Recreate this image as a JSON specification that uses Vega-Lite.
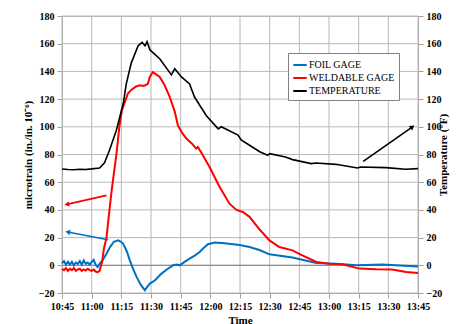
{
  "$schema": "https://vega.github.io/schema/vega-lite/v6.json",
  "width": 356,
  "height": 277,
  "autosize": {"type": "none"},
  "padding": {"left": 62, "top": 16, "right": 50, "bottom": 31},
  "background": "white",
  "config": {
    "view": {"stroke": "#b8b8b8"},
    "axis": {
      "labelOverlap": false,
      "labelFont": "Liberation Serif",
      "labelFontWeight": "bold",
      "labelFontSize": 10,
      "labelColor": "#000",
      "titleFont": "Liberation Serif",
      "titleFontWeight": "bold",
      "titleFontSize": 11,
      "titleColor": "#000",
      "gridColor": "#b8b8b8",
      "domainColor": "#a0a0a0",
      "tickColor": "#a0a0a0",
      "tickSize": 5
    }
  },
  "datasets": {
    "lines": [
      {"t": "2020-01-01T10:45:00Z", "s": "FOIL GAGE", "v": 1.5},
      {"t": "2020-01-01T10:46:00Z", "s": "FOIL GAGE", "v": 3},
      {"t": "2020-01-01T10:47:00Z", "s": "FOIL GAGE", "v": 0.5},
      {"t": "2020-01-01T10:48:00Z", "s": "FOIL GAGE", "v": 2.5},
      {"t": "2020-01-01T10:49:00Z", "s": "FOIL GAGE", "v": 0.5},
      {"t": "2020-01-01T10:50:00Z", "s": "FOIL GAGE", "v": 2.5},
      {"t": "2020-01-01T10:51:00Z", "s": "FOIL GAGE", "v": 0},
      {"t": "2020-01-01T10:52:00Z", "s": "FOIL GAGE", "v": 2},
      {"t": "2020-01-01T10:53:00Z", "s": "FOIL GAGE", "v": 1},
      {"t": "2020-01-01T10:54:00Z", "s": "FOIL GAGE", "v": 3},
      {"t": "2020-01-01T10:55:00Z", "s": "FOIL GAGE", "v": 0.5},
      {"t": "2020-01-01T10:56:00Z", "s": "FOIL GAGE", "v": 3.5},
      {"t": "2020-01-01T10:57:00Z", "s": "FOIL GAGE", "v": 1},
      {"t": "2020-01-01T10:58:00Z", "s": "FOIL GAGE", "v": 2},
      {"t": "2020-01-01T10:59:00Z", "s": "FOIL GAGE", "v": 0.5},
      {"t": "2020-01-01T11:00:00Z", "s": "FOIL GAGE", "v": 2.5},
      {"t": "2020-01-01T11:01:00Z", "s": "FOIL GAGE", "v": 4},
      {"t": "2020-01-01T11:02:00Z", "s": "FOIL GAGE", "v": 0.5},
      {"t": "2020-01-01T11:03:00Z", "s": "FOIL GAGE", "v": -1.2},
      {"t": "2020-01-01T11:04:00Z", "s": "FOIL GAGE", "v": 1},
      {"t": "2020-01-01T11:05:42Z", "s": "FOIL GAGE", "v": 4},
      {"t": "2020-01-01T11:07:30Z", "s": "FOIL GAGE", "v": 8.4},
      {"t": "2020-01-01T11:09:12Z", "s": "FOIL GAGE", "v": 13},
      {"t": "2020-01-01T11:11:12Z", "s": "FOIL GAGE", "v": 17},
      {"t": "2020-01-01T11:13:24Z", "s": "FOIL GAGE", "v": 18},
      {"t": "2020-01-01T11:14:48Z", "s": "FOIL GAGE", "v": 17},
      {"t": "2020-01-01T11:15:54Z", "s": "FOIL GAGE", "v": 15.7},
      {"t": "2020-01-01T11:17:48Z", "s": "FOIL GAGE", "v": 10},
      {"t": "2020-01-01T11:19:18Z", "s": "FOIL GAGE", "v": 3.6},
      {"t": "2020-01-01T11:20:48Z", "s": "FOIL GAGE", "v": -2},
      {"t": "2020-01-01T11:22:42Z", "s": "FOIL GAGE", "v": -8.4},
      {"t": "2020-01-01T11:24:48Z", "s": "FOIL GAGE", "v": -14},
      {"t": "2020-01-01T11:26:54Z", "s": "FOIL GAGE", "v": -18},
      {"t": "2020-01-01T11:27:54Z", "s": "FOIL GAGE", "v": -16},
      {"t": "2020-01-01T11:29:24Z", "s": "FOIL GAGE", "v": -13.2},
      {"t": "2020-01-01T11:31:54Z", "s": "FOIL GAGE", "v": -11},
      {"t": "2020-01-01T11:35:18Z", "s": "FOIL GAGE", "v": -6},
      {"t": "2020-01-01T11:38:00Z", "s": "FOIL GAGE", "v": -3},
      {"t": "2020-01-01T11:41:06Z", "s": "FOIL GAGE", "v": 0},
      {"t": "2020-01-01T11:43:00Z", "s": "FOIL GAGE", "v": 0.5},
      {"t": "2020-01-01T11:44:30Z", "s": "FOIL GAGE", "v": 0},
      {"t": "2020-01-01T11:47:00Z", "s": "FOIL GAGE", "v": 2.5},
      {"t": "2020-01-01T11:49:30Z", "s": "FOIL GAGE", "v": 4.8},
      {"t": "2020-01-01T11:52:06Z", "s": "FOIL GAGE", "v": 7},
      {"t": "2020-01-01T11:54:36Z", "s": "FOIL GAGE", "v": 9.6},
      {"t": "2020-01-01T11:56:36Z", "s": "FOIL GAGE", "v": 12.5},
      {"t": "2020-01-01T11:58:48Z", "s": "FOIL GAGE", "v": 15.2},
      {"t": "2020-01-01T12:02:12Z", "s": "FOIL GAGE", "v": 16.5},
      {"t": "2020-01-01T12:07:12Z", "s": "FOIL GAGE", "v": 16},
      {"t": "2020-01-01T12:14:48Z", "s": "FOIL GAGE", "v": 14.7},
      {"t": "2020-01-01T12:19:48Z", "s": "FOIL GAGE", "v": 13.2},
      {"t": "2020-01-01T12:24:48Z", "s": "FOIL GAGE", "v": 11},
      {"t": "2020-01-01T12:29:54Z", "s": "FOIL GAGE", "v": 7.9},
      {"t": "2020-01-01T12:41:30Z", "s": "FOIL GAGE", "v": 5.6},
      {"t": "2020-01-01T12:53:36Z", "s": "FOIL GAGE", "v": 1.7},
      {"t": "2020-01-01T13:03:42Z", "s": "FOIL GAGE", "v": 1.2},
      {"t": "2020-01-01T13:13:48Z", "s": "FOIL GAGE", "v": 0},
      {"t": "2020-01-01T13:26:54Z", "s": "FOIL GAGE", "v": 0.5},
      {"t": "2020-01-01T13:45:00Z", "s": "FOIL GAGE", "v": -0.8},
      {"t": "2020-01-01T10:45:00Z", "s": "WELDABLE GAGE", "v": -2.5},
      {"t": "2020-01-01T10:46:00Z", "s": "WELDABLE GAGE", "v": -3.5},
      {"t": "2020-01-01T10:47:00Z", "s": "WELDABLE GAGE", "v": -2},
      {"t": "2020-01-01T10:48:00Z", "s": "WELDABLE GAGE", "v": -4},
      {"t": "2020-01-01T10:49:00Z", "s": "WELDABLE GAGE", "v": -2.5},
      {"t": "2020-01-01T10:50:00Z", "s": "WELDABLE GAGE", "v": -3.5},
      {"t": "2020-01-01T10:51:00Z", "s": "WELDABLE GAGE", "v": -2},
      {"t": "2020-01-01T10:52:00Z", "s": "WELDABLE GAGE", "v": -4},
      {"t": "2020-01-01T10:53:00Z", "s": "WELDABLE GAGE", "v": -3},
      {"t": "2020-01-01T10:54:00Z", "s": "WELDABLE GAGE", "v": -2.5},
      {"t": "2020-01-01T10:55:00Z", "s": "WELDABLE GAGE", "v": -4},
      {"t": "2020-01-01T10:56:00Z", "s": "WELDABLE GAGE", "v": -3},
      {"t": "2020-01-01T10:57:00Z", "s": "WELDABLE GAGE", "v": -3.8},
      {"t": "2020-01-01T10:58:00Z", "s": "WELDABLE GAGE", "v": -2.5},
      {"t": "2020-01-01T10:59:00Z", "s": "WELDABLE GAGE", "v": -3.5},
      {"t": "2020-01-01T11:00:00Z", "s": "WELDABLE GAGE", "v": -4},
      {"t": "2020-01-01T11:01:00Z", "s": "WELDABLE GAGE", "v": -3},
      {"t": "2020-01-01T11:02:00Z", "s": "WELDABLE GAGE", "v": -4.5},
      {"t": "2020-01-01T11:03:00Z", "s": "WELDABLE GAGE", "v": -5},
      {"t": "2020-01-01T11:04:00Z", "s": "WELDABLE GAGE", "v": -4},
      {"t": "2020-01-01T11:05:12Z", "s": "WELDABLE GAGE", "v": 2},
      {"t": "2020-01-01T11:06:12Z", "s": "WELDABLE GAGE", "v": 12},
      {"t": "2020-01-01T11:07:30Z", "s": "WELDABLE GAGE", "v": 20},
      {"t": "2020-01-01T11:09:00Z", "s": "WELDABLE GAGE", "v": 40},
      {"t": "2020-01-01T11:10:12Z", "s": "WELDABLE GAGE", "v": 55},
      {"t": "2020-01-01T11:12:30Z", "s": "WELDABLE GAGE", "v": 80},
      {"t": "2020-01-01T11:14:00Z", "s": "WELDABLE GAGE", "v": 100},
      {"t": "2020-01-01T11:15:18Z", "s": "WELDABLE GAGE", "v": 112},
      {"t": "2020-01-01T11:16:48Z", "s": "WELDABLE GAGE", "v": 118},
      {"t": "2020-01-01T11:18:18Z", "s": "WELDABLE GAGE", "v": 124},
      {"t": "2020-01-01T11:20:18Z", "s": "WELDABLE GAGE", "v": 127},
      {"t": "2020-01-01T11:22:18Z", "s": "WELDABLE GAGE", "v": 129},
      {"t": "2020-01-01T11:24:18Z", "s": "WELDABLE GAGE", "v": 130},
      {"t": "2020-01-01T11:26:24Z", "s": "WELDABLE GAGE", "v": 129.5},
      {"t": "2020-01-01T11:28:24Z", "s": "WELDABLE GAGE", "v": 131},
      {"t": "2020-01-01T11:29:24Z", "s": "WELDABLE GAGE", "v": 136},
      {"t": "2020-01-01T11:30:54Z", "s": "WELDABLE GAGE", "v": 139.5},
      {"t": "2020-01-01T11:32:24Z", "s": "WELDABLE GAGE", "v": 138},
      {"t": "2020-01-01T11:34:24Z", "s": "WELDABLE GAGE", "v": 136},
      {"t": "2020-01-01T11:36:54Z", "s": "WELDABLE GAGE", "v": 130},
      {"t": "2020-01-01T11:39:30Z", "s": "WELDABLE GAGE", "v": 121.5},
      {"t": "2020-01-01T11:42:00Z", "s": "WELDABLE GAGE", "v": 111},
      {"t": "2020-01-01T11:43:36Z", "s": "WELDABLE GAGE", "v": 101},
      {"t": "2020-01-01T11:46:00Z", "s": "WELDABLE GAGE", "v": 95},
      {"t": "2020-01-01T11:47:54Z", "s": "WELDABLE GAGE", "v": 91.5},
      {"t": "2020-01-01T11:50:36Z", "s": "WELDABLE GAGE", "v": 88},
      {"t": "2020-01-01T11:52:54Z", "s": "WELDABLE GAGE", "v": 84.3},
      {"t": "2020-01-01T11:53:42Z", "s": "WELDABLE GAGE", "v": 85.4},
      {"t": "2020-01-01T11:55:36Z", "s": "WELDABLE GAGE", "v": 81},
      {"t": "2020-01-01T11:59:36Z", "s": "WELDABLE GAGE", "v": 71},
      {"t": "2020-01-01T12:04:42Z", "s": "WELDABLE GAGE", "v": 56.5},
      {"t": "2020-01-01T12:09:42Z", "s": "WELDABLE GAGE", "v": 44.5},
      {"t": "2020-01-01T12:13:12Z", "s": "WELDABLE GAGE", "v": 40},
      {"t": "2020-01-01T12:16:24Z", "s": "WELDABLE GAGE", "v": 38.5},
      {"t": "2020-01-01T12:19:48Z", "s": "WELDABLE GAGE", "v": 35},
      {"t": "2020-01-01T12:24:48Z", "s": "WELDABLE GAGE", "v": 26},
      {"t": "2020-01-01T12:29:54Z", "s": "WELDABLE GAGE", "v": 18},
      {"t": "2020-01-01T12:34:54Z", "s": "WELDABLE GAGE", "v": 13.2},
      {"t": "2020-01-01T12:41:30Z", "s": "WELDABLE GAGE", "v": 10.8},
      {"t": "2020-01-01T12:46:30Z", "s": "WELDABLE GAGE", "v": 7.2},
      {"t": "2020-01-01T12:53:36Z", "s": "WELDABLE GAGE", "v": 2.4},
      {"t": "2020-01-01T13:00:06Z", "s": "WELDABLE GAGE", "v": 1.2},
      {"t": "2020-01-01T13:06:42Z", "s": "WELDABLE GAGE", "v": 0.7},
      {"t": "2020-01-01T13:15:18Z", "s": "WELDABLE GAGE", "v": -2.4},
      {"t": "2020-01-01T13:23:54Z", "s": "WELDABLE GAGE", "v": -2.9},
      {"t": "2020-01-01T13:31:54Z", "s": "WELDABLE GAGE", "v": -3.1},
      {"t": "2020-01-01T13:39:00Z", "s": "WELDABLE GAGE", "v": -4.8},
      {"t": "2020-01-01T13:45:00Z", "s": "WELDABLE GAGE", "v": -5.5},
      {"t": "2020-01-01T10:45:00Z", "s": "TEMPERATURE", "v": 69.5},
      {"t": "2020-01-01T10:48:00Z", "s": "TEMPERATURE", "v": 69.2},
      {"t": "2020-01-01T10:51:00Z", "s": "TEMPERATURE", "v": 69.0},
      {"t": "2020-01-01T10:54:00Z", "s": "TEMPERATURE", "v": 69.4},
      {"t": "2020-01-01T10:57:00Z", "s": "TEMPERATURE", "v": 69.2},
      {"t": "2020-01-01T11:00:00Z", "s": "TEMPERATURE", "v": 69.6},
      {"t": "2020-01-01T11:04:00Z", "s": "TEMPERATURE", "v": 70.3},
      {"t": "2020-01-01T11:06:30Z", "s": "TEMPERATURE", "v": 74},
      {"t": "2020-01-01T11:09:00Z", "s": "TEMPERATURE", "v": 83},
      {"t": "2020-01-01T11:12:30Z", "s": "TEMPERATURE", "v": 97.5},
      {"t": "2020-01-01T11:16:00Z", "s": "TEMPERATURE", "v": 117},
      {"t": "2020-01-01T11:17:30Z", "s": "TEMPERATURE", "v": 131},
      {"t": "2020-01-01T11:20:00Z", "s": "TEMPERATURE", "v": 146},
      {"t": "2020-01-01T11:23:30Z", "s": "TEMPERATURE", "v": 158.5},
      {"t": "2020-01-01T11:25:30Z", "s": "TEMPERATURE", "v": 161},
      {"t": "2020-01-01T11:27:00Z", "s": "TEMPERATURE", "v": 158.5},
      {"t": "2020-01-01T11:28:00Z", "s": "TEMPERATURE", "v": 161.5},
      {"t": "2020-01-01T11:29:30Z", "s": "TEMPERATURE", "v": 155.5},
      {"t": "2020-01-01T11:34:30Z", "s": "TEMPERATURE", "v": 149},
      {"t": "2020-01-01T11:40:18Z", "s": "TEMPERATURE", "v": 137.5},
      {"t": "2020-01-01T11:42:00Z", "s": "TEMPERATURE", "v": 142},
      {"t": "2020-01-01T11:45:24Z", "s": "TEMPERATURE", "v": 136},
      {"t": "2020-01-01T11:49:30Z", "s": "TEMPERATURE", "v": 131},
      {"t": "2020-01-01T11:52:00Z", "s": "TEMPERATURE", "v": 121.5},
      {"t": "2020-01-01T11:58:00Z", "s": "TEMPERATURE", "v": 108},
      {"t": "2020-01-01T12:04:00Z", "s": "TEMPERATURE", "v": 98.5},
      {"t": "2020-01-01T12:05:30Z", "s": "TEMPERATURE", "v": 100},
      {"t": "2020-01-01T12:14:00Z", "s": "TEMPERATURE", "v": 94},
      {"t": "2020-01-01T12:15:36Z", "s": "TEMPERATURE", "v": 90.5},
      {"t": "2020-01-01T12:20:00Z", "s": "TEMPERATURE", "v": 86.5},
      {"t": "2020-01-01T12:25:00Z", "s": "TEMPERATURE", "v": 82},
      {"t": "2020-01-01T12:29:00Z", "s": "TEMPERATURE", "v": 79.4},
      {"t": "2020-01-01T12:30:00Z", "s": "TEMPERATURE", "v": 80.6},
      {"t": "2020-01-01T12:38:00Z", "s": "TEMPERATURE", "v": 78.2},
      {"t": "2020-01-01T12:41:36Z", "s": "TEMPERATURE", "v": 76.3},
      {"t": "2020-01-01T12:51:00Z", "s": "TEMPERATURE", "v": 73.4},
      {"t": "2020-01-01T12:53:24Z", "s": "TEMPERATURE", "v": 73.9},
      {"t": "2020-01-01T13:03:30Z", "s": "TEMPERATURE", "v": 72.9},
      {"t": "2020-01-01T13:14:24Z", "s": "TEMPERATURE", "v": 70.3},
      {"t": "2020-01-01T13:16:00Z", "s": "TEMPERATURE", "v": 71},
      {"t": "2020-01-01T13:28:42Z", "s": "TEMPERATURE", "v": 70.5},
      {"t": "2020-01-01T13:38:48Z", "s": "TEMPERATURE", "v": 69.3},
      {"t": "2020-01-01T13:45:00Z", "s": "TEMPERATURE", "v": 69.8}
    ],
    "arrows": [
      {"a": "red", "t1": "2020-01-01T11:07:30Z", "v1": 50.5, "t2": "2020-01-01T10:47:24Z", "v2": 44},
      {"a": "blue", "t1": "2020-01-01T11:08:18Z", "v1": 18.5, "t2": "2020-01-01T10:47:54Z", "v2": 24},
      {"a": "black", "t1": "2020-01-01T13:17:18Z", "v1": 75, "t2": "2020-01-01T13:42:12Z", "v2": 100}
    ],
    "ygrid": [{"g": -20}, {"g": 0}, {"g": 20}, {"g": 40}, {"g": 60}, {"g": 80}, {"g": 100}, {"g": 120}, {"g": 140}, {"g": 160}, {"g": 180}],
    "xgrid": [
      {"g": "2020-01-01T10:45:00Z"}, {"g": "2020-01-01T11:00:00Z"}, {"g": "2020-01-01T11:15:00Z"}, {"g": "2020-01-01T11:30:00Z"},
      {"g": "2020-01-01T11:45:00Z"}, {"g": "2020-01-01T12:00:00Z"}, {"g": "2020-01-01T12:15:00Z"}, {"g": "2020-01-01T12:30:00Z"},
      {"g": "2020-01-01T12:45:00Z"}, {"g": "2020-01-01T13:00:00Z"}, {"g": "2020-01-01T13:15:00Z"}, {"g": "2020-01-01T13:30:00Z"},
      {"g": "2020-01-01T13:45:00Z"}
    ],
    "zero": [{"v": 0}]
  },
  "layer": [
    {
      "data": {"name": "ygrid"},
      "mark": {"type": "rule", "color": "#b8b8b8", "strokeWidth": 1},
      "encoding": {
        "y": {"field": "g", "type": "quantitative", "scale": {"domain": [-20, 180], "nice": false, "zero": false}, "axis": null}
      }
    },
    {
      "data": {"name": "xgrid"},
      "mark": {"type": "rule", "color": "#b8b8b8", "strokeWidth": 1},
      "encoding": {
        "x": {"field": "g", "type": "temporal", "title": "Time", "scale": {"type": "utc", "domain": [1577875500000, 1577886300000]}, "axis": {"format": "%H:%M", "values": [1577875500000, 1577876400000, 1577877300000, 1577878200000, 1577879100000, 1577880000000, 1577880900000, 1577881800000, 1577882700000, 1577883600000, 1577884500000, 1577885400000, 1577886300000], "grid": false, "labelPadding": 3, "titlePadding": 3, "labelFlush": false, "labelOverlap": false}}
      }
    },
    {
      "data": {"name": "zero"},
      "mark": {"type": "rule", "color": "#808080", "strokeWidth": 1},
      "encoding": {
        "y": {"field": "v", "type": "quantitative", "scale": {"domain": [-20, 180], "nice": false, "zero": false}, "axis": null}
      }
    },
    {
      "data": {"name": "lines"},
      "transform": [{"filter": "datum.s !== 'TEMPERATURE'"}],
      "mark": {"type": "line", "strokeWidth": 2},
      "encoding": {
        "x": {"field": "t", "type": "temporal", "title": "Time", "scale": {"type": "utc", "domain": [1577875500000, 1577886300000]}, "axis": {"format": "%H:%M", "values": [1577875500000, 1577876400000, 1577877300000, 1577878200000, 1577879100000, 1577880000000, 1577880900000, 1577881800000, 1577882700000, 1577883600000, 1577884500000, 1577885400000, 1577886300000], "grid": false, "labelPadding": 3, "titlePadding": 3, "labelFlush": false, "labelOverlap": false}},
        "y": {
          "field": "v",
          "type": "quantitative",
          "scale": {"domain": [-20, 180], "nice": false, "zero": false},
          "title": "microtrain (in./in. 10⁻⁶)",
          "axis": {"orient": "left", "values": [-20, 0, 20, 40, 60, 80, 100, 120, 140, 160, 180], "grid": false, "labelOverlap": false, "labelPadding": 3, "titlePadding": 5}
        },
        "color": {
          "field": "s",
          "type": "nominal",
          "scale": {"domain": ["FOIL GAGE", "WELDABLE GAGE", "TEMPERATURE"], "range": ["#0070c0", "#ff0000", "#000000"]},
          "legend": {
            "title": null,
            "orient": "none",
            "legendX": 226,
            "legendY": 37,
            "fillColor": "white",
            "strokeColor": "#808080",
            "padding": 4,
            "symbolType": "stroke",
            "symbolStrokeWidth": 2,
            "symbolSize": 180,
            "labelFont": "Liberation Serif",
            "labelFontSize": 10,
            "labelColor": "#000",
            "labelOffset": 1,
            "rowPadding": 0,
            "labelLimit": 200
          }
        }
      }
    },
    {
      "data": {"name": "lines"},
      "transform": [{"filter": "datum.s === 'TEMPERATURE'"}],
      "mark": {"type": "line", "strokeWidth": 1.6, "color": "black"},
      "encoding": {
        "x": {"field": "t", "type": "temporal", "title": "Time", "scale": {"type": "utc", "domain": [1577875500000, 1577886300000]}, "axis": {"format": "%H:%M", "values": [1577875500000, 1577876400000, 1577877300000, 1577878200000, 1577879100000, 1577880000000, 1577880900000, 1577881800000, 1577882700000, 1577883600000, 1577884500000, 1577885400000, 1577886300000], "grid": false, "labelPadding": 3, "titlePadding": 3, "labelFlush": false, "labelOverlap": false}},
        "y": {
          "field": "v",
          "type": "quantitative",
          "scale": {"domain": [-20, 180], "nice": false, "zero": false},
          "title": "Temperature (°F)",
          "axis": {"orient": "right", "grid": false, "labelOverlap": false, "values": [-20, 0, 20, 40, 60, 80, 100, 120, 140, 160, 180], "labelPadding": 3, "titlePadding": 7, "titleAngle": 270, "titleBaseline": "bottom"}
        },
        "color": {"field": "s", "type": "nominal"}
      }
    },
    {
      "data": {"name": "arrows"},
      "mark": {"type": "rule", "strokeWidth": 1.6},
      "encoding": {
        "x": {"field": "t1", "type": "temporal", "title": "Time", "scale": {"type": "utc", "domain": [1577875500000, 1577886300000]}, "axis": {"format": "%H:%M", "values": [1577875500000, 1577876400000, 1577877300000, 1577878200000, 1577879100000, 1577880000000, 1577880900000, 1577881800000, 1577882700000, 1577883600000, 1577884500000, 1577885400000, 1577886300000], "grid": false, "labelPadding": 3, "titlePadding": 3, "labelFlush": false, "labelOverlap": false}},
        "x2": {"field": "t2"},
        "y": {"field": "v1", "type": "quantitative", "scale": {"domain": [-20, 180], "nice": false, "zero": false}, "axis": null},
        "y2": {"field": "v2"},
        "stroke": {"field": "a", "type": "nominal", "scale": {"domain": ["red", "blue", "black"], "range": ["#ff0000", "#0070c0", "#000000"]}, "legend": null}
      }
    },
    {
      "data": {"name": "arrows"},
      "transform": [{"filter": "datum.a === 'red'"}],
      "mark": {"type": "point", "shape": "triangle-up", "filled": true, "size": 30, "angle": 257, "color": "#ff0000", "opacity": 1},
      "encoding": {
        "x": {"field": "t2", "type": "temporal", "title": "Time", "scale": {"type": "utc", "domain": [1577875500000, 1577886300000]}, "axis": {"format": "%H:%M", "values": [1577875500000, 1577876400000, 1577877300000, 1577878200000, 1577879100000, 1577880000000, 1577880900000, 1577881800000, 1577882700000, 1577883600000, 1577884500000, 1577885400000, 1577886300000], "grid": false, "labelPadding": 3, "titlePadding": 3, "labelFlush": false, "labelOverlap": false}},
        "y": {"field": "v2", "type": "quantitative", "scale": {"domain": [-20, 180], "nice": false, "zero": false}, "axis": null}
      }
    },
    {
      "data": {"name": "arrows"},
      "transform": [{"filter": "datum.a === 'blue'"}],
      "mark": {"type": "point", "shape": "triangle-up", "filled": true, "size": 30, "angle": 281, "color": "#0070c0", "opacity": 1},
      "encoding": {
        "x": {"field": "t2", "type": "temporal", "title": "Time", "scale": {"type": "utc", "domain": [1577875500000, 1577886300000]}, "axis": {"format": "%H:%M", "values": [1577875500000, 1577876400000, 1577877300000, 1577878200000, 1577879100000, 1577880000000, 1577880900000, 1577881800000, 1577882700000, 1577883600000, 1577884500000, 1577885400000, 1577886300000], "grid": false, "labelPadding": 3, "titlePadding": 3, "labelFlush": false, "labelOverlap": false}},
        "y": {"field": "v2", "type": "quantitative", "scale": {"domain": [-20, 180], "nice": false, "zero": false}, "axis": null}
      }
    },
    {
      "data": {"name": "arrows"},
      "transform": [{"filter": "datum.a === 'black'"}],
      "mark": {"type": "point", "shape": "triangle-up", "filled": true, "size": 30, "angle": 55, "color": "#000000", "opacity": 1},
      "encoding": {
        "x": {"field": "t2", "type": "temporal", "title": "Time", "scale": {"type": "utc", "domain": [1577875500000, 1577886300000]}, "axis": {"format": "%H:%M", "values": [1577875500000, 1577876400000, 1577877300000, 1577878200000, 1577879100000, 1577880000000, 1577880900000, 1577881800000, 1577882700000, 1577883600000, 1577884500000, 1577885400000, 1577886300000], "grid": false, "labelPadding": 3, "titlePadding": 3, "labelFlush": false, "labelOverlap": false}},
        "y": {"field": "v2", "type": "quantitative", "scale": {"domain": [-20, 180], "nice": false, "zero": false}, "axis": null}
      }
    }
  ],
  "resolve": {"scale": {"y": "independent", "stroke": "independent"}}
}
